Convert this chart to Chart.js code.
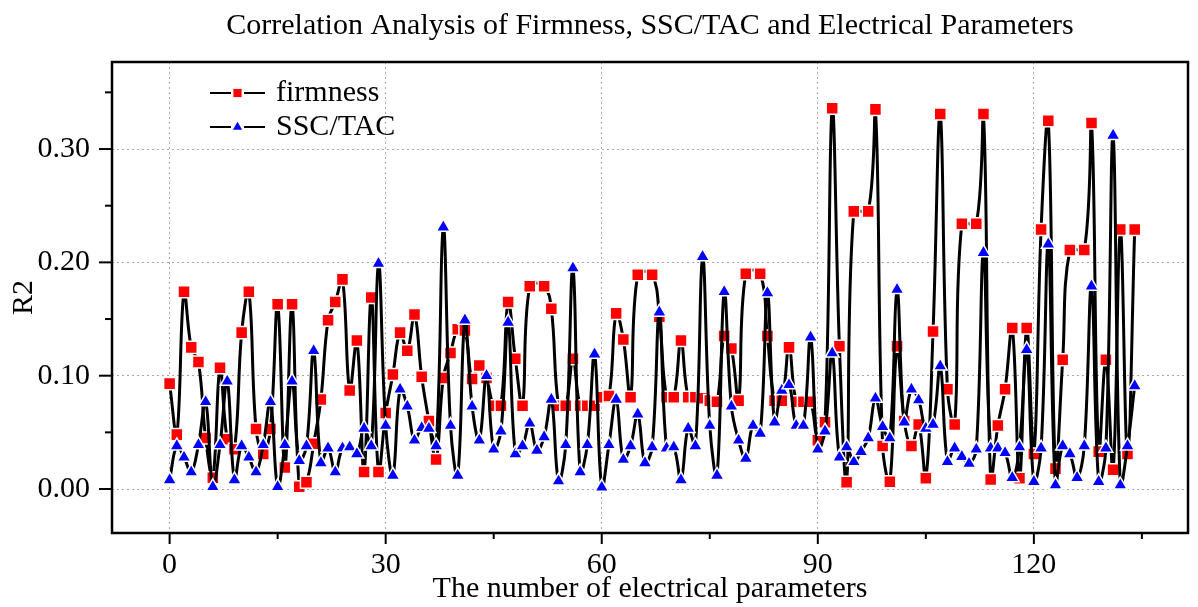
<!DOCTYPE html>
<html>
<head>
<meta charset="utf-8">
<title>Correlation Analysis</title>
<script src="https://cdn.jsdelivr.net/npm/chart.js@4.4.1/dist/chart.umd.min.js"></script>
<style>
  html, body { margin: 0; padding: 0; background: #fff; }
  .wrap { width: 1198px; height: 607px; position: relative; }
</style>
</head>
<body>
<div class="wrap"><canvas id="corrChart"></canvas></div>
<script>
// x positions: index of the electrical parameter
const paramIndex = Array.from({ length: 135 }, (_, i) => i);

// R2 of firmness (null = no symbol drawn in the original, line passes over)
const firmness = [
  0.093, 0.048, 0.174, 0.125, 0.112, 0.045, 0.010, 0.107, 0.044, 0.035,
  0.138, 0.174, 0.053, 0.031, 0.053, 0.163, 0.019, 0.163, 0.002, 0.006,
  0.040, 0.079, 0.149, 0.165, 0.185, 0.087, 0.131, 0.015, 0.169, 0.015,
  0.067, 0.101, 0.138, 0.122, 0.154, 0.099, 0.060, 0.026, 0.098, 0.120,
  0.141, 0.140, 0.097, 0.109, 0.098, 0.0735, 0.0735, 0.165, 0.115, 0.0735,
  0.179, null, 0.179, 0.159, 0.0735, 0.0735, 0.115, 0.0735, 0.0735, 0.0735,
  0.081, 0.082, 0.155, 0.132, 0.081, 0.189, null, 0.189, 0.152, 0.081,
  0.081, 0.131, 0.081, 0.081, 0.080, 0.078, 0.077, 0.135, 0.124, 0.078,
  0.190, null, 0.190, 0.135, 0.078, 0.078, 0.125, 0.077, 0.077, 0.077,
  0.043, 0.059, 0.336, 0.126, 0.006, 0.245, null, 0.245, 0.335, 0.038,
  0.0065, 0.126, 0.060, 0.038, 0.057, 0.0095, 0.139, 0.331, 0.088, 0.057,
  0.234, null, 0.234, 0.331, 0.0085, 0.056, 0.088, 0.142, 0.0095, 0.142,
  0.031, 0.229, 0.325, 0.018, 0.114, 0.211, null, 0.211, 0.323, 0.033,
  0.114, 0.017, 0.229, 0.031, 0.229
];

// R2 of SSC/TAC
const sscTac = [
  0.008, 0.038, 0.028, 0.015, 0.039, 0.077, 0.002, 0.039, 0.095, 0.008,
  0.038, 0.028, 0.015, 0.039, 0.077, 0.002, 0.039, 0.095, 0.025, 0.038,
  0.122, 0.023, 0.036, 0.015, 0.036, 0.037, 0.031, 0.0535, 0.038, 0.199,
  0.056, 0.012, 0.088, 0.073, 0.043, 0.054, 0.0535, 0.038, 0.231, 0.056,
  0.012, 0.149, 0.073, 0.043, 0.100, 0.035, 0.051, 0.147, 0.031, 0.038,
  0.058, 0.034, 0.046, 0.079, 0.007, 0.039, 0.195, 0.015, 0.039, 0.119,
  0.0015, 0.039, 0.079, 0.026, 0.038, 0.066, 0.023, 0.037, 0.156, 0.036,
  0.037, 0.008, 0.0535, 0.038, 0.205, 0.056, 0.012, 0.174, 0.073, 0.043,
  0.027, 0.056, 0.049, 0.173, 0.059, 0.087, 0.092, 0.056, 0.056, 0.134,
  0.035, 0.051, 0.120, 0.028, 0.037, 0.024, 0.033, 0.045, 0.080, 0.055,
  0.045, 0.176, 0.059, 0.088, 0.0785, 0.0535, 0.057, 0.1085, 0.024, 0.036,
  0.0285, 0.0225, 0.035, 0.2085, 0.036, 0.036, 0.032, 0.010, 0.037, 0.123,
  0.0065, 0.036, 0.216, 0.0035, 0.038, 0.031, 0.010, 0.038, 0.179, 0.0065,
  0.036, 0.312, 0.0035, 0.038, 0.091
];

const seriesNames = ['firmness', 'SSC/TAC'];

const serif = "'Liberation Serif', 'Times New Roman', serif";

const isMajorX = v => Math.abs(v % 30) < 1e-6;
const isMajorY = v => Math.abs(v * 10 - Math.round(v * 10)) < 1e-6;

// frame, outward ticks (major + minor) and the in-plot legend
const framePlugin = {
  id: 'framePlugin',
  afterDraw(chart) {
    const { ctx, chartArea: a, scales: { x, y } } = chart;
    ctx.save();
    ctx.strokeStyle = '#000';
    ctx.lineWidth = 2;
    x.ticks.forEach(t => {
      const px = x.getPixelForValue(t.value);
      const len = isMajorX(t.value) ? 11 : 6;
      ctx.beginPath();
      ctx.moveTo(px, a.bottom);
      ctx.lineTo(px, a.bottom + len);
      ctx.stroke();
    });
    y.ticks.forEach(t => {
      const py = y.getPixelForValue(t.value);
      const len = isMajorY(t.value) ? 13 : 7;
      ctx.beginPath();
      ctx.moveTo(a.left, py);
      ctx.lineTo(a.left - len, py);
      ctx.stroke();
    });
    ctx.lineWidth = 2.5;
    ctx.strokeRect(a.left, a.top, a.right - a.left, a.bottom - a.top);

    // legend
    chart.data.datasets.forEach((ds, k) => {
      const cy = a.top + 31 + k * 34;
      const x0 = a.left + 98;
      ctx.strokeStyle = '#000';
      ctx.lineWidth = 2;
      ctx.beginPath();
      ctx.moveTo(x0, cy); ctx.lineTo(x0 + 21, cy);
      ctx.moveTo(x0 + 34, cy); ctx.lineTo(x0 + 55, cy);
      ctx.stroke();
      ctx.fillStyle = ds.pointBackgroundColor;
      Chart.helpers.drawPoint(ctx, { pointStyle: ds.pointStyle, radius: ds.pointStyle === 'rect' ? 5.8 : 5.3, borderWidth: 0, rotation: 0 }, x0 + 27.5, cy);
      ctx.fillStyle = '#000';
      ctx.font = '30px ' + serif;
      ctx.textAlign = 'left';
      ctx.textBaseline = 'middle';
      ctx.fillText(ds.label, x0 + 66, cy);
    });
    ctx.restore();
  }
};

new Chart(document.getElementById('corrChart'), {
  type: 'line',
  data: {
    labels: paramIndex,
    datasets: [
      {
        label: seriesNames[0],
        data: firmness,
        borderColor: '#000',
        borderWidth: 3,
        tension: 0.4,
        spanGaps: true,
        pointStyle: 'rect',
        pointRadius: 8.5,
        pointBackgroundColor: '#ff0000',
        pointBorderColor: '#fff',
        pointBorderWidth: 1.5,
        order: 2
      },
      {
        label: seriesNames[1],
        data: sscTac,
        borderColor: '#000',
        borderWidth: 3,
        tension: 0.4,
        pointStyle: 'triangle',
        pointRadius: 8,
        pointBackgroundColor: '#0000ff',
        pointBorderColor: '#fff',
        pointBorderWidth: 1.5,
        order: 1
      }
    ]
  },
  options: {
    responsive: true,
    maintainAspectRatio: false,
    animation: false,
    layout: { padding: { left: 0, right: 2, top: 0, bottom: 0 } },
    plugins: {
      legend: { display: false },
      tooltip: { enabled: false },
      title: {
        display: true,
        fullSize: false,
        text: 'Correlation Analysis of Firmness, SSC/TAC and Electrical Parameters',
        color: '#000',
        font: { family: serif, size: 30, weight: 'normal' },
        padding: { top: 8, bottom: 18 }
      }
    },
    scales: {
      x: {
        type: 'linear',
        min: -8,
        max: 141.4,
        afterFit: s => { s.height = 74; },
        border: { display: false, dash: [2, 3] },
        grid: {
          drawTicks: false,
          color: c => (c.tick && isMajorX(c.tick.value)) ? '#a8a8a8' : 'transparent',
          lineWidth: 1
        },
        ticks: {
          stepSize: 15,
          includeBounds: false,
          autoSkip: false,
          maxRotation: 0,
          padding: 14,
          color: '#000',
          font: { family: serif, size: 30 },
          callback: v => isMajorX(v) ? String(v) : ''
        },
        title: {
          display: true,
          text: 'The number of electrical parameters',
          color: '#000',
          font: { family: serif, size: 30 },
          padding: { top: 0, bottom: 0 }
        }
      },
      y: {
        min: -0.0388,
        max: 0.3768,
        afterFit: s => { s.width = 112; },
        border: { display: false, dash: [2, 3] },
        grid: {
          drawTicks: false,
          color: c => (c.tick && isMajorY(c.tick.value)) ? '#a8a8a8' : 'transparent',
          lineWidth: 1
        },
        ticks: {
          stepSize: 0.05,
          includeBounds: false,
          autoSkip: false,
          padding: 22,
          color: '#000',
          font: { family: serif, size: 30 },
          callback: v => isMajorY(v) ? v.toFixed(2) : ''
        },
        title: {
          display: true,
          text: 'R2',
          color: '#000',
          font: { family: serif, size: 30 },
          padding: { top: 6, bottom: 0 }
        }
      }
    }
  },
  plugins: [framePlugin]
});
</script>
</body>
</html>
